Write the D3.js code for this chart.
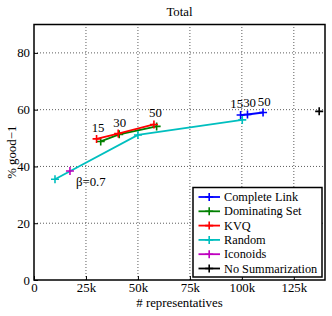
<!DOCTYPE html>
<html>
<head>
<meta charset="utf-8">
<script src="https://cdn.jsdelivr.net/npm/d3@7"></script>
<style>
body { margin: 0; background: #fff; }
</style>
</head>
<body>
<script>
(function(){

//series names and colours (MATLAB style)
var seriesNames = ["Complete Link", "Dominating Set", "KVQ", "Random", "Iconoids", "No Summarization"];
var seriesColors = ["#0000ff", "#008000", "#ff0000", "#00bfbf", "#bf00bf", "#000000"];

//values: [representatives, % good-1]
var completeLink = [[99400, 58.1], [102700, 58.3], [110200, 59.0]];
var dominatingSet = [[32100, 48.8], [41000, 51.3], [59000, 54.1]];
var kvq = [[30100, 49.7], [40500, 51.6], [57700, 54.8]];
var random = [[10100, 35.5], [50000, 51.1], [100200, 56.4]];
var iconoids = [[17300, 38.4]];
var noSummarization = [[137200, 59.4]];

var allSeries = [completeLink, dominatingSet, kvq, random, iconoids, noSummarization];

//point labels
var pointLabels = ["15", "30", "50"];
var betaLabel = "\u03b2=0.7";

//tick values
var xTicks = [0, 25000, 50000, 75000, 100000, 125000];
var xTickLabels = ["0", "25k", "50k", "75k", "100k", "125k"];
var yTicks = [0, 20, 40, 60, 80];

var fontFam = "'Liberation Serif'";

window.onload = draw();

function serif(sel, size){
    return sel.style("font-family", fontFam).style("font-size", (size || 12.8) + "px").attr("fill", "#000");
}

function draw(){
    var width = 332, height = 316;
    var margin = {left: 34, right: 7, top: 24.5, bottom: 36};
    var pw = width - margin.left - margin.right,
        ph = height - margin.top - margin.bottom;

    var svg = d3.select("body").append("svg")
        .attr("width", width)
        .attr("height", height);

    var x = d3.scaleLinear().domain([0, 140000]).range([margin.left, margin.left + pw]);
    var y = d3.scaleLinear().domain([0, 90]).range([margin.top + ph, margin.top]);

    //grid
    var grid = svg.append("g");
    grid.selectAll(".gx").data(xTicks.slice(1))
        .enter().append("line")
        .attr("x1", function(d){ return x(d); })
        .attr("x2", function(d){ return x(d); })
        .attr("y1", y(0)).attr("y2", y(90))
        .attr("stroke", "#333").attr("stroke-width", 0.8)
        .attr("stroke-dasharray", "1,2");
    grid.selectAll(".gy").data(yTicks.slice(1))
        .enter().append("line")
        .attr("y1", function(d){ return y(d); })
        .attr("y2", function(d){ return y(d); })
        .attr("x1", x(0)).attr("x2", x(140000))
        .attr("stroke", "#333").attr("stroke-width", 0.8)
        .attr("stroke-dasharray", "1,2");

    //axes
    var xAxis = d3.axisBottom(x).tickValues(xTicks)
        .tickFormat(function(d, i){ return xTickLabels[i]; })
        .tickSizeInner(-4).tickSizeOuter(0).tickPadding(3);
    var yAxis = d3.axisLeft(y).tickValues(yTicks)
        .tickSizeInner(-4).tickSizeOuter(0).tickPadding(4);

    var gx = svg.append("g").attr("transform", "translate(0," + y(0) + ")").call(xAxis);
    var gy = svg.append("g").attr("transform", "translate(" + x(0) + ",0)").call(yAxis);
    [gx, gy].forEach(function(g){
        g.select(".domain").remove();
        serif(g.selectAll("text"));
        g.selectAll("line").attr("stroke", "#000");
    });

    //line generator
    var line = d3.line()
        .x(function(d){ return x(d[0]); })
        .y(function(d){ return y(d[1]); });

    allSeries.forEach(function(data, i){
        var g = svg.append("g");
        g.append("path").datum(data)
            .attr("d", line)
            .attr("fill", "none")
            .attr("stroke", seriesColors[i])
            .attr("stroke-width", 1.8);
        g.selectAll("path.mk").data(data).enter().append("path")
            .attr("class", "mk")
            .attr("d", function(d){
                var cx = x(d[0]), cy = y(d[1]), s = 4;
                return "M" + (cx - s) + "," + cy + "H" + (cx + s) + "M" + cx + "," + (cy - s) + "V" + (cy + s);
            })
            .attr("stroke", seriesColors[i])
            .attr("stroke-width", 1.6);
    });

    //point labels for KVQ
    serif(svg.selectAll(null).data(kvq).enter().append("text")
        .attr("x", function(d){ return x(d[0]) + 1.5; })
        .attr("y", function(d){ return y(d[1]) - 7; })
        .attr("text-anchor", "middle")
        .text(function(d, i){ return pointLabels[i]; }));

    //point labels for Complete Link (crowded, so nudged apart)
    var clAnchor = ["end", "start", "middle"],
        clDx = [2.5, -4.3, 1.2];
    serif(svg.selectAll(null).data(completeLink).enter().append("text")
        .attr("x", function(d, i){ return x(d[0]) + clDx[i]; })
        .attr("y", function(d){ return y(d[1]) - 7; })
        .attr("text-anchor", function(d, i){ return clAnchor[i]; })
        .text(function(d, i){ return pointLabels[i]; }));

    serif(svg.append("text")
        .attr("x", x(iconoids[0][0]) + 6)
        .attr("y", y(iconoids[0][1]) + 15)
        .text(betaLabel));

    //box
    svg.append("rect")
        .attr("x", x(0)).attr("y", y(90))
        .attr("width", pw).attr("height", ph)
        .attr("fill", "none").attr("stroke", "#000").attr("stroke-width", 1.5);

    //title and axis labels
    serif(svg.append("text").attr("x", margin.left + pw / 2).attr("y", 16)
        .attr("text-anchor", "middle").text("Total"));
    serif(svg.append("text").attr("x", margin.left + pw / 2).attr("y", 307)
        .attr("text-anchor", "middle").text("# representatives"));
    serif(svg.append("text")
        .attr("transform", "translate(16," + (margin.top + ph / 2) + ") rotate(-90)")
        .attr("text-anchor", "middle").text("% good\u22121"));

    //legend
    var lg = svg.append("g").attr("transform", "translate(193,187.5)");
    lg.append("rect").attr("width", 129).attr("height", 89.5)
        .attr("fill", "#fff").attr("stroke", "#000").attr("stroke-width", 1.5);
    seriesNames.forEach(function(name, i){
        var ly = 9.5 + i * 14.3;
        lg.append("line").attr("x1", 5.5).attr("x2", 27).attr("y1", ly).attr("y2", ly)
            .attr("stroke", seriesColors[i]).attr("stroke-width", 1.8);
        lg.append("path")
            .attr("d", "M12.2," + ly + "H20.2M16.2," + (ly - 4) + "V" + (ly + 4))
            .attr("stroke", seriesColors[i]).attr("stroke-width", 1.6);
        serif(lg.append("text").attr("x", 31).attr("y", ly + 4).text(name), 12.3);
    });
}

})();
</script>
</body>
</html>
